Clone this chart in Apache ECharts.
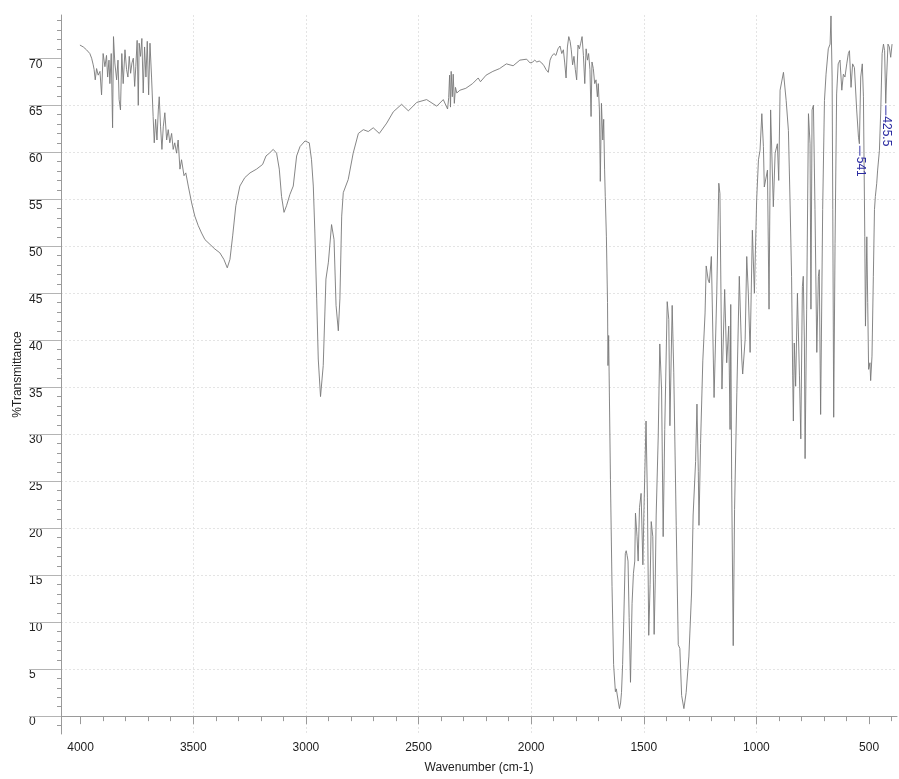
<!DOCTYPE html>
<html>
<head>
<meta charset="utf-8">
<script src="https://cdn.jsdelivr.net/npm/echarts@6/dist/echarts.min.js"></script>
<style>
html,body{margin:0;padding:0;background:#fff;}
#chart{width:899px;height:779px;}
</style>
</head>
<body>
<div id="chart"></div>
<script>
// ---- data ----
const wavenumbers = [
4003,3995,3988,3974,3959,3951,3944,3940,3935,3929,3922,3914,3907,3900,3892,3885,3880,3874,3870,3864,
3858,3854,3848,3840,3834,3829,3823,3817,3811,3803,3796,3790,3784,3778,3772,3766,3760,3755,3749,3744,
3740,3734,3728,3722,3716,3710,3704,3698,3692,3685,3678,3673,3667,3661,3655,3651,3645,3639,3633,3626,
3618,3611,3604,3596,3589,3582,3574,3567,3559,3552,3541,3533,3522,3507,3493,3478,3463,3448,3426,3404,
3382,3364,3349,3337,3325,3311,3293,3271,3248,3219,3192,3177,3162,3145,3130,3118,3108,3097,3086,3071,
3056,3041,3026,3004,2985,2975,2967,2960,2952,2945,2935,2923,2911,2900,2886,2875,2866,2856,2849,2841,
2834,2812,2790,2767,2745,2723,2701,2674,2641,2612,2575,2545,2508,2464,2419,2390,2371,2366,2362,2358,
2355,2350,2346,2341,2336,2330,2316,2290,2260,2235,2225,2200,2170,2140,2110,2080,2050,2020,2005,1993,
1984,1975,1964,1953,1943,1934,1924,1916,1909,1899,1890,1881,1872,1864,1857,1851,1845,1839,1833,1827,
1822,1816,1810,1804,1798,1792,1786,1780,1774,1768,1762,1756,1750,1745,1739,1734,1730,1724,1718,1712,
1706,1702,1697,1693,1688,1682,1678,1674,1671,1666,1661,1659,1656,1648,1641,1634,1626,1622,1618,1613,
1608,1603,1599,1594,1589,1582,1578,1574,1570,1565,1559,1552,1546,1540,1537,1530,1525,1519,1512,1504,
1499,1490,1484,1478,1472,1467,1460,1454,1449,1445,1436,1429,1421,1414,1407,1396,1389,1384,1374,1367,
1356,1347,1340,1332,1322,1312,1300,1288,1281,1270,1264,1258,1255,1248,1238,1228,1223,1214,1209,1200,
1188,1176,1167,1162,1153,1141,1132,1123,1117,1114,1110,1103,1097,1087,1076,1065,1061,1050,1043,1036,
1028,1018,1009,999,991,984,976,969,965,957,951,944,937,932,925,917,907,901,895,880,
868,858,851,844,839,836,832,826,818,809,803,796,792,787,784,777,769,762,758,753,
747,740,732,725,721,715,706,698,691,681,673,669,664,661,657,651,644,637,629,621,
614,607,599,592,587,580,573,565,555,547,543,537,530,525,519,516,510,506,502,496,
493,487,481,476,472,466,462,454,448,442,436,431,426,422,416,410,404,398
];
const transmittance = [
71.4,71.3,71.2,70.9,70.5,70.0,69.3,68.8,67.7,68.9,68.2,68.6,66.1,70.5,69.1,70.3,68.0,69.8,67.3,70.5,
62.6,72.3,69.5,67.7,69.8,65.6,64.5,70.5,67.3,70.9,68.8,68.0,70.2,68.4,69.5,70.0,67.0,69.1,71.9,65.0,
71.6,70.2,72.1,66.3,71.2,68.0,71.8,66.1,71.6,68.0,63.8,61.0,63.5,61.3,64.5,65.9,62.7,60.3,62.7,64.2,
61.3,62.4,61.0,62.0,60.3,61.0,59.9,61.3,58.2,59.2,57.5,57.8,56.4,54.6,53.2,52.2,51.4,50.7,50.2,49.7,
49.3,48.6,47.7,48.6,51.1,54.3,56.4,57.3,57.8,58.2,58.7,59.6,59.9,60.3,59.9,58.2,55.3,53.6,54.3,55.5,
56.4,59.6,60.6,61.2,61.0,59.2,56.4,51.4,44.4,38.0,34.0,37.3,46.5,48.3,52.3,50.7,43.7,41.0,44.4,53.2,
55.7,57.1,59.9,62.0,62.4,62.2,62.6,62.0,63.1,64.3,65.1,64.4,65.3,65.6,64.9,65.6,64.6,65.8,68.2,64.8,
68.6,65.9,68.3,65.2,66.9,66.3,66.6,66.8,67.3,67.9,67.5,68.2,68.6,68.9,69.4,69.2,69.8,69.9,69.5,69.6,
69.8,69.6,69.7,69.5,69.2,68.8,68.5,69.8,70.2,70.5,70.3,71.0,71.3,70.5,70.9,69.5,67.9,71.2,72.3,71.8,
70.9,69.3,70.2,68.8,67.7,71.4,71.0,71.6,72.3,70.3,67.3,71.0,69.8,70.5,68.8,63.8,69.6,68.9,67.3,67.7,
65.9,67.3,64.5,56.9,65.2,61.3,63.5,58.2,55.3,51.0,44.0,37.3,40.5,25.2,13.8,5.5,2.6,2.9,2.7,1.5,
0.8,1.4,2.5,5.5,10.1,17.3,17.6,17.1,16.5,10.5,3.6,12.0,15.2,16.5,21.6,19.1,16.5,22.2,23.7,16.1,
22.2,31.4,23.3,8.6,14.0,20.7,19.1,8.7,14.5,21.4,29.7,39.6,34.7,19.1,30.5,44.1,42.2,30.9,43.7,36.6,
20.3,7.6,7.2,2.2,0.8,2.5,6.3,13.1,21.4,27.1,33.2,26.0,20.3,29.0,37.8,42.9,47.9,46.4,46.1,48.9,
33.9,45.0,56.7,55.6,34.8,45.4,37.6,41.5,30.5,43.8,25.2,7.5,22.0,34.4,46.8,38.0,36.4,40.1,48.9,45.0,
38.7,51.7,45.0,54.9,59.2,60.2,64.1,60.6,56.3,56.3,58.1,43.3,64.5,64.6,54.2,59.9,60.9,57.0,66.6,68.5,
65.5,62.3,55.0,46.8,36.2,31.4,39.7,35.1,45.0,36.2,29.5,45.7,46.8,39.7,27.4,43.3,64.1,60.9,43.3,64.5,
65.0,53.9,38.7,46.8,47.5,32.1,53.9,65.5,68.3,71.0,71.5,74.5,68.0,53.9,31.8,50.3,66.2,69.4,69.8,66.6,
68.3,68.0,69.4,70.5,70.8,66.9,69.4,69.0,64.5,61.6,60.9,68.0,69.4,65.9,51.0,41.5,51.0,44.0,36.9,37.6,
35.7,38.3,46.8,53.9,55.3,56.7,58.1,60.2,64.5,70.5,71.5,70.8,65.2,68.0,71.5,71.2,70.1,71.5
];
const peakWavenumbers = [541, 425.5];
const peakTransmittance = [60.9, 65.2];
const peakLabels = ['541', '425.5'];
const xTickValues = [500, 1000, 1500, 2000, 2500, 3000, 3500, 4000];
const yTickValues = [0, 5, 10, 15, 20, 25, 30, 35, 40, 45, 50, 55, 60, 65, 70];
const xName = 'Wavenumber (cm-1)';
const yName = '%Transmittance';

// ---- chart ----
const X_MIN = 376, X_MAX = 4087, Y_MIN = -1.9, Y_MAX = 74.6;
const FONT = '"Liberation Sans", Arial, sans-serif';
const AXIS_COLOR = '#9a9a9a';
const plain = v => String(v);

const lineData = wavenumbers.map((w, i) => [w, transmittance[i]]);
const peakData = peakWavenumbers.map((w, i) => [w, peakTransmittance[i]]);
const yTickData = yTickValues.map(v => [X_MAX, v]);

const chart = echarts.init(document.getElementById('chart'), null, {renderer: 'canvas'});
chart.setOption({
  animation: false,
  backgroundColor: '#ffffff',
  grid: {left: 61, right: 2, top: 15, bottom: 42, containLabel: false},
  xAxis: [{
    type: 'value', inverse: true, min: X_MIN, max: X_MAX,
    minInterval: 500, maxInterval: 500, splitNumber: 8,
    axisLine: {show: true, lineStyle: {color: AXIS_COLOR, width: 1}},
    axisTick: {show: true, customValues: xTickValues, length: 8, lineStyle: {color: AXIS_COLOR}},
    minorTick: {show: true, splitNumber: 5, length: 5, lineStyle: {color: AXIS_COLOR}},
    axisLabel: {customValues: xTickValues, formatter: plain, margin: 8, color: '#222',
                fontSize: 12, fontFamily: FONT},
    splitLine: {show: true, showMinLine: false, showMaxLine: false,
                lineStyle: {color: '#e4e4e4', width: 1, type: [2, 2]}},
    name: xName, nameLocation: 'middle', nameGap: 28, nameMoveOverlap: false,
    nameTextStyle: {color: '#222', fontSize: 12, fontFamily: FONT}
  }],
  yAxis: [{
    type: 'value', min: Y_MIN, max: Y_MAX,
    minInterval: 5, maxInterval: 5, splitNumber: 15,
    axisLine: {show: true, lineStyle: {color: AXIS_COLOR, width: 1}},
    axisTick: {show: true, customValues: yTickValues, length: 5, lineStyle: {color: AXIS_COLOR}},
    minorTick: {show: true, splitNumber: 5, length: 4, lineStyle: {color: AXIS_COLOR}},
    axisLabel: {customValues: yTickValues, formatter: plain, margin: 32, align: 'left',
                verticalAlign: 'top', color: '#222', fontSize: 12, fontFamily: FONT},
    splitLine: {show: true, showMinLine: false, showMaxLine: false,
                lineStyle: {color: '#e4e4e4', width: 1, type: [2, 2]}},
    name: yName, nameLocation: 'middle', nameGap: 37, nameMoveOverlap: false,
    nameTextStyle: {color: '#222', fontSize: 12, fontFamily: FONT}
  }],
  series: [{
    type: 'line', xAxisIndex: 0, yAxisIndex: 0,
    data: lineData, showSymbol: false, symbol: 'none', sampling: null,
    lineStyle: {color: '#787878', width: 0.9}, z: 3
  }, {
    // long major ticks at the left of the value axis (label underlines)
    type: 'custom', xAxisIndex: 0, yAxisIndex: 0, z: 2, clip: false, silent: true,
    data: yTickData,
    renderItem: function (params, api) {
      const p = api.coord([api.value(0), api.value(1)]);
      const y = Math.round(p[1]) + 0.5;
      return {
        type: 'line',
        shape: {x1: p[0] - 32, y1: y, x2: p[0], y2: y},
        style: {stroke: '#b4b4b4', lineWidth: 1}
      };
    }
  }, {
    type: 'custom', xAxisIndex: 0, yAxisIndex: 0, z: 5, clip: false,
    data: peakData,
    renderItem: function (params, api) {
      const p = api.coord([api.value(0), api.value(1)]);
      const label = peakLabels[params.dataIndex];
      return {
        type: 'group',
        children: [{
          type: 'line',
          shape: {x1: p[0], y1: p[1] + 2, x2: p[0], y2: p[1] + 12},
          style: {stroke: '#3838a8', lineWidth: 1}
        }, {
          type: 'text', x: p[0], y: p[1] + 13, rotation: -Math.PI / 2,
          style: {text: label, fill: '#2a2aa0', font: '12px ' + FONT,
                  align: 'left', verticalAlign: 'middle'}
        }]
      };
    }
  }]
});
</script>
</body>
</html>
